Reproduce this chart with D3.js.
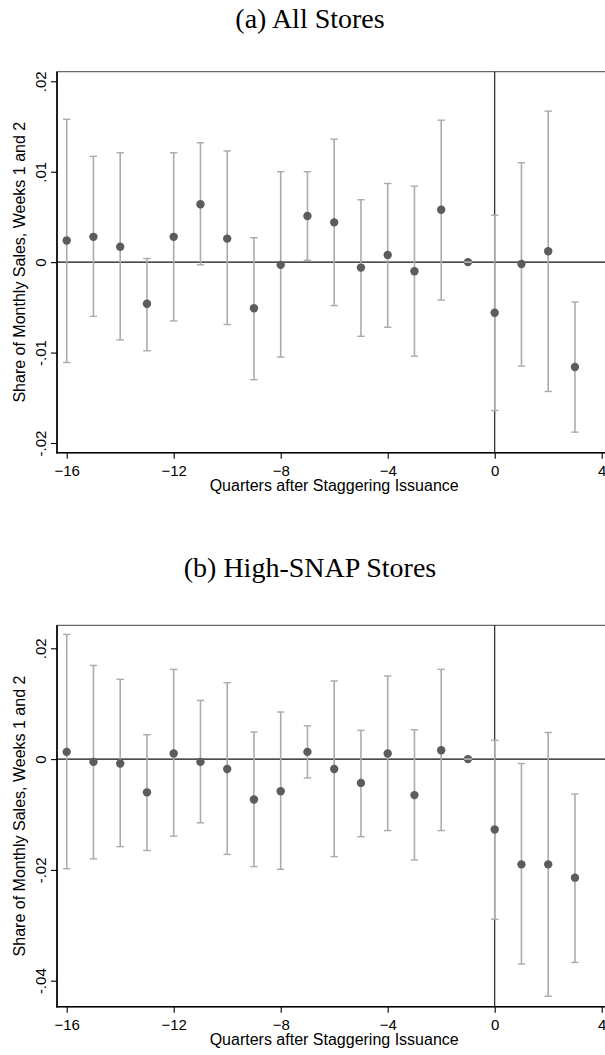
<!DOCTYPE html>
<html>
<head>
<meta charset="utf-8">
<script src="https://cdn.jsdelivr.net/npm/d3@7"></script>
<style>
  body { margin: 0; background: #fff; }
  svg { display: block; }
  .title { font-family: "Liberation Serif", serif; font-size: 28px; fill: #000; }
  .tick text { font-family: "Liberation Sans", Arial, sans-serif; font-size: 15px; fill: #000; }
  .axis-title { font-family: "Liberation Sans", Arial, sans-serif; font-size: 16px; fill: #000; }
</style>
</head>
<body>
<script>
const width = 605,
    height = 1055;

// quarters relative to staggering issuance
const quarters = [-16, -15, -14, -13, -12, -11, -10, -9, -8, -7, -6, -5, -4, -3, -2, -1, 0, 1, 2, 3];

// (a) all stores
const allCoef = [0.0024, 0.0028, 0.0017, -0.0046, 0.0028, 0.0064, 0.0026, -0.0051, -0.0003, 0.0051,
    0.0044, -0.0006, 0.0008, -0.0010, 0.0058, 0, -0.0056, -0.0002, 0.0012, -0.0116];
const allLo = [-0.0111, -0.0060, -0.0086, -0.0098, -0.0065, -0.0003, -0.0069, -0.0130, -0.0105, 0.0002,
    -0.0048, -0.0082, -0.0072, -0.0104, -0.0042, 0, -0.0164, -0.0115, -0.0143, -0.0188];
const allHi = [0.0158, 0.0117, 0.0121, 0.0004, 0.0121, 0.0132, 0.0123, 0.0027, 0.0100, 0.0100,
    0.0136, 0.0069, 0.0087, 0.0084, 0.0157, 0, 0.0052, 0.0110, 0.0167, -0.0044];

// (b) high-SNAP stores
const snapCoef = [0.0013, -0.0005, -0.0008, -0.0060, 0.0010, -0.0005, -0.0018, -0.0073, -0.0058, 0.0013,
    -0.0018, -0.0043, 0.0010, -0.0065, 0.0016, 0, -0.0127, -0.0190, -0.0190, -0.0214];
const snapLo = [-0.0198, -0.0180, -0.0158, -0.0165, -0.0139, -0.0115, -0.0172, -0.0194, -0.0199, -0.0034,
    -0.0176, -0.0140, -0.0129, -0.0182, -0.0129, 0, -0.0289, -0.0370, -0.0428, -0.0367];
const snapHi = [0.0225, 0.0169, 0.0144, 0.0044, 0.0162, 0.0106, 0.0138, 0.0049, 0.0085, 0.0060,
    0.0141, 0.0052, 0.0150, 0.0053, 0.0162, 0, 0.0034, -0.0008, 0.0048, -0.0063];

const xTicks = [-16, -12, -8, -4, 0, 4];
const allYTicks = [-0.02, -0.01, 0, 0.01, 0.02];
const allYLabels = ['-.02', '-.01', '0', '.01', '.02'];
const snapYTicks = [-0.04, -0.02, 0, 0.02];
const snapYLabels = ['-.04', '-.02', '0', '.02'];

const titles = ['(a) All Stores', '(b) High-SNAP Stores'];
const xTitle = 'Quarters after Staggering Issuance';
const yTitle = 'Share of Monthly Sales, Weeks 1 and 2';

const left = 57,
    right = 616;

const x = d3.scaleLinear().domain([-16, 4]).range([66.7, 601.7]);

const svg = d3.select('body').append('svg')
    .attr('width', width)
    .attr('height', height)
    ;

function panel(cfg) {
    const y = d3.scaleLinear().domain(cfg.domain).range(cfg.range);
    const rows = quarters.map((q, i) => ({q: q, b: cfg.coef[i], lo: cfg.lo[i], hi: cfg.hi[i]}));
    const g = svg.append('g');

    g.append('text')
        .attr('class', 'title')
        .attr('x', 310)
        .attr('y', cfg.titleY)
        .attr('text-anchor', 'middle')
        .text(cfg.title);

    // frame
    g.append('rect')
        .attr('x', left)
        .attr('y', cfg.top)
        .attr('width', right - left)
        .attr('height', cfg.bottom - cfg.top)
        .attr('fill', '#fff')
        .attr('stroke', '#444')
        .attr('stroke-width', 1);

    // reference lines
    g.append('line')
        .attr('x1', left).attr('x2', right)
        .attr('y1', y(0)).attr('y2', y(0))
        .attr('stroke', '#111').attr('stroke-width', 1.1);
    g.append('line')
        .attr('x1', x(0)).attr('x2', x(0))
        .attr('y1', cfg.top).attr('y2', cfg.bottom)
        .attr('stroke', '#111').attr('stroke-width', 1.1);

    // error bars
    g.append('g').selectAll('line')
        .data(rows)
        .enter()
        .append('line')
        .attr('x1', d => x(d.q)).attr('x2', d => x(d.q))
        .attr('y1', d => y(d.lo)).attr('y2', d => y(d.hi))
        .attr('stroke', '#ababab')
        .attr('stroke-width', 1.6);

    g.append('g').selectAll('circle')
        .data(rows)
        .enter()
        .append('circle')
        .attr('cx', d => x(d.q))
        .attr('cy', d => y(d.b))
        .attr('r', 4.2)
        .attr('fill', '#5c5c5c');

    // caps
    const caps = g.append('g');
    ['lo', 'hi'].forEach(k => {
        caps.selectAll('line.' + k)
            .data(rows)
            .enter()
            .append('line')
            .attr('class', k)
            .attr('x1', d => x(d.q) - 3.7).attr('x2', d => x(d.q) + 3.7)
            .attr('y1', d => y(d[k])).attr('y2', d => y(d[k]))
            .attr('stroke', '#ababab')
            .attr('stroke-width', 1.4);
    });

    // axes
    const yAxis = d3.axisLeft(y)
        .tickValues(cfg.yTicks)
        .tickFormat((d, i) => cfg.yLabels[i])
        .tickSize(6)
        .tickPadding(0);
    const ya = g.append('g')
        .attr('transform', 'translate(' + left + ',0)')
        .call(yAxis);
    ya.select('.domain').remove();
    ya.selectAll('.tick line').attr('stroke', '#000').attr('stroke-width', 1.1);
    ya.selectAll('.tick text')
        .attr('transform', 'rotate(-90)')
        .attr('x', 0)
        .attr('y', -11)
        .attr('dy', 0)
        .attr('text-anchor', 'middle');

    const xAxis = d3.axisBottom(x)
        .tickValues(xTicks)
        .tickFormat(d3.format('d'))
        .tickSize(6)
        .tickPadding(6);
    const xa = g.append('g')
        .attr('transform', 'translate(0,' + cfg.bottom + ')')
        .call(xAxis);
    xa.select('.domain').remove();
    xa.selectAll('.tick line').attr('stroke', '#000').attr('stroke-width', 1.1);
    xa.selectAll('.tick text').attr('dy', 0).attr('y', 23);

    // heavy left and bottom axis lines
    g.append('line')
        .attr('x1', left).attr('x2', left)
        .attr('y1', cfg.top).attr('y2', cfg.bottom + 0.8)
        .attr('stroke', '#000').attr('stroke-width', 1.6);
    g.append('line')
        .attr('x1', left - 0.8).attr('x2', right)
        .attr('y1', cfg.bottom).attr('y2', cfg.bottom)
        .attr('stroke', '#000').attr('stroke-width', 1.6);

    g.append('text')
        .attr('class', 'axis-title')
        .attr('x', (x(-16) + x(4)) / 2)
        .attr('y', cfg.bottom + 38)
        .attr('text-anchor', 'middle')
        .text(xTitle);

    g.append('text')
        .attr('class', 'axis-title')
        .attr('transform', 'translate(25,' + (cfg.top + cfg.bottom) / 2 + ') rotate(-90)')
        .attr('text-anchor', 'middle')
        .text(yTitle);
}

panel({
    title: titles[0], titleY: 28,
    top: 71.7, bottom: 452.7,
    domain: [-0.02, 0.02], range: [443, 81.3],
    yTicks: allYTicks, yLabels: allYLabels,
    coef: allCoef, lo: allLo, hi: allHi
});

panel({
    title: titles[1], titleY: 577,
    top: 625.3, bottom: 1006.7,
    domain: [-0.04, 0.02], range: [980.7, 648.3],
    yTicks: snapYTicks, yLabels: snapYLabels,
    coef: snapCoef, lo: snapLo, hi: snapHi
});
</script>
</body>
</html>
